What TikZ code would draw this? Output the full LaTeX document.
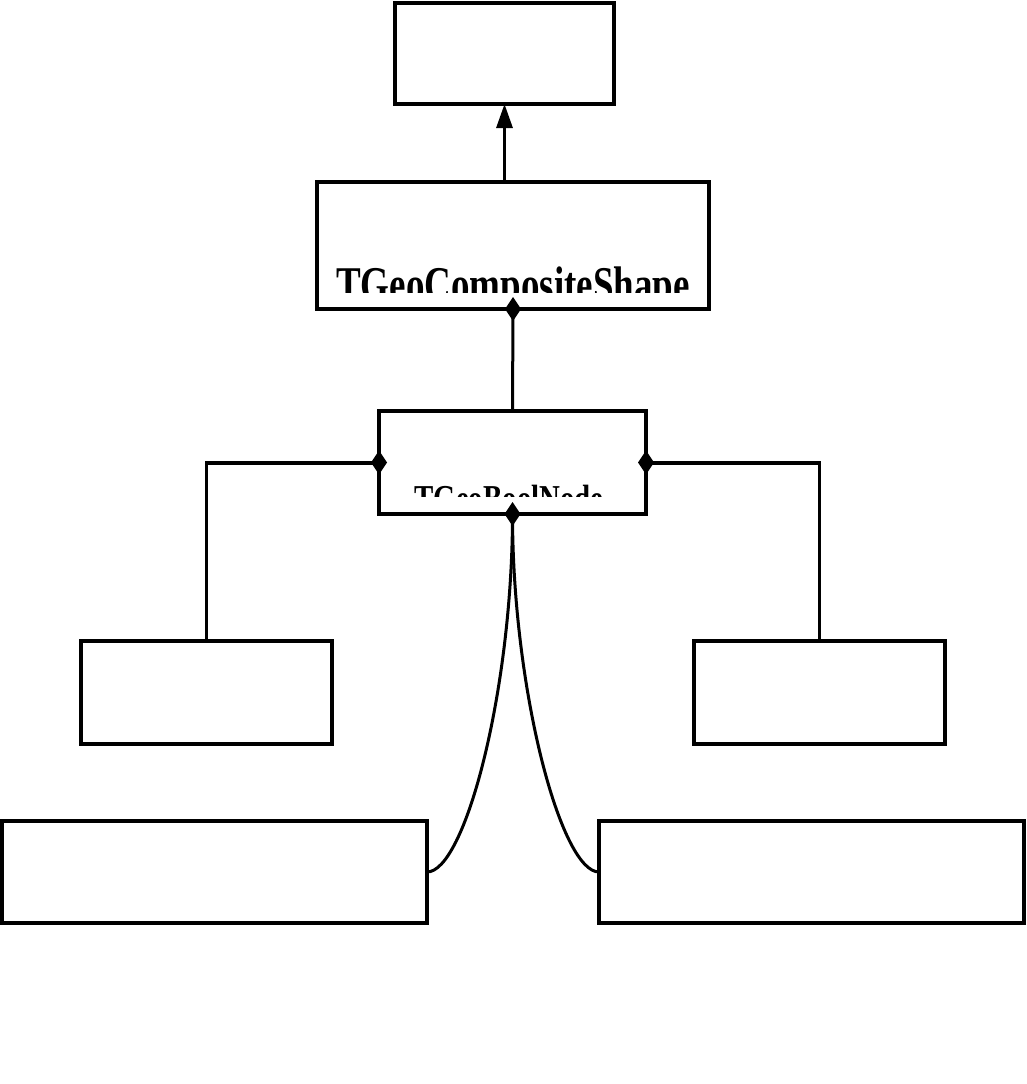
\documentclass[tikz,border=0pt]{standalone}
\usepackage{fontspec}
\setmainfont{Liberation Serif}
\usetikzlibrary{arrows.meta,shapes.geometric}
\tikzset{
  umlbox/.style={draw, line width=3.3pt, inner sep=0pt, outer sep=0pt},
  conn/.style={line width=3pt},
  hconn/.style={line width=4pt},
  inh/.style={line width=3pt, -{Triangle[length=24pt,width=16pt]}},
  diam/.style={diamond, fill=black, draw=none, minimum width=16pt, minimum height=24pt, inner sep=0pt, outer sep=0pt},
  lbl/.style={inner sep=0pt, outer sep=0pt, anchor=base, font=\bfseries}
}
\begin{document}
\begin{tikzpicture}[x=1pt,y=-1pt]
\useasboundingbox (0,0) rectangle (1026,1084);
% boxes
\node[umlbox, minimum width=219pt, minimum height=101pt] (top) at (504.5,53.5) {};
\node[umlbox, minimum width=392pt, minimum height=127pt] (comp) at (513,245.5) {};
\node[umlbox, minimum width=267pt, minimum height=103pt] (bool) at (512.5,462.5) {};
\node[umlbox, minimum width=251pt, minimum height=103pt] (left) at (206.5,692.5) {};
\node[umlbox, minimum width=251pt, minimum height=103pt] (right) at (819.5,692.5) {};
\node[umlbox, minimum width=425pt, minimum height=102pt] (bl) at (214.5,872) {};
\node[umlbox, minimum width=425pt, minimum height=102pt] (br) at (811.5,872) {};
% clipped labels
\begin{scope}
  \clip (317,182) rectangle (709,292);
  \node[lbl, xscale=0.74] (compt) at (513,301) {\fontsize{50}{50}\selectfont TGeoCompositeShape};
\end{scope}
\begin{scope}
  \clip (379,411) rectangle (646,496);
  \node[lbl, xscale=0.76] (boolt) at (509,511) {\fontsize{38}{38}\selectfont TGeoBoolNode};
\end{scope}
% connectors
\draw[inh] (top.south |- comp.north) -- (top.south);
\draw[conn] (comp.south) -- (bool.north);
\draw[conn] (bool.west) -| (left.north);
\draw[hconn] (bool.west) -- (bool.west -| left.north);
\draw[conn] (bool.east) -| (right.north);
\draw[hconn] (bool.east) -- (bool.east -| right.north);
\draw[conn] (bool.south) .. controls (512.5,690) and (465,872) .. (bl.east);
\draw[conn] (bool.south) .. controls (512.5,690) and (561,872) .. (br.west);
% composition diamonds
\node[diam] (d1) at (comp.south) {};
\node[diam] (d2) at (bool.west) {};
\node[diam] (d3) at (bool.east) {};
\node[diam] (d4) at (bool.south) {};
\end{tikzpicture}
\end{document}
